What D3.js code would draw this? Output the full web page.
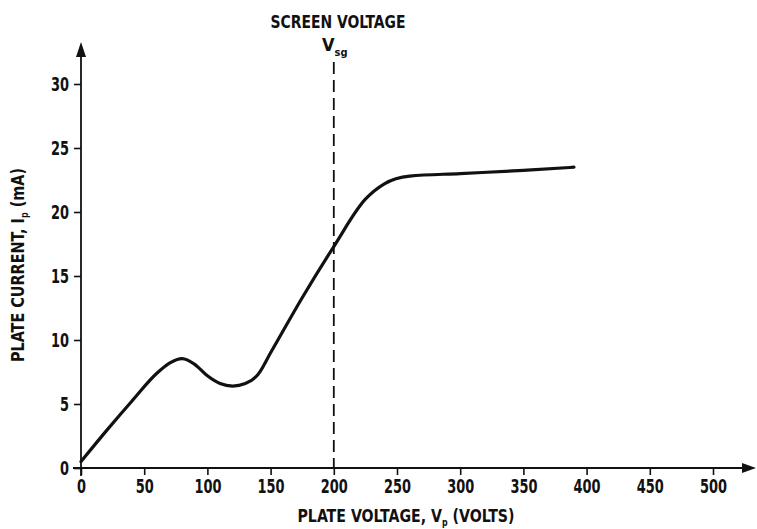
<!DOCTYPE html>
<html>
<head>
<meta charset="utf-8">
<script src="https://cdn.jsdelivr.net/npm/d3@7"></script>
<style>
  body { margin: 0; background: #fff; }
  text { font-family: "DejaVu Sans Condensed", "DejaVu Sans", sans-serif; font-stretch: condensed; font-weight: bold; fill: #111; }
</style>
</head>
<body>
<div id="chart"></div>
<script>
// plate voltage (V) and plate current (mA)
var plateVolts   = [0, 20, 40, 60, 70, 80, 90, 100, 110, 120, 130, 140, 150, 175, 200, 225, 240, 260, 300, 350, 390];
var plateCurrent = [0.5, 2.9, 5.2, 7.4, 8.2, 8.55, 8.1, 7.2, 6.6, 6.4, 6.6, 7.3, 9.0, 13.3, 17.3, 21.0, 22.2, 22.8, 23.0, 23.25, 23.5];
var xTicks = [0, 50, 100, 150, 200, 250, 300, 350, 400, 450, 500];
var yTicks = [0, 5, 10, 15, 20, 25, 30];
var screenVoltage = 200;

var W = 757, H = 529;

var svg = d3.select("#chart").append("svg")
    .attr("width", W)
    .attr("height", H);

var x = d3.scaleLinear().domain([0, 500]).range([81, 713]);
var y = d3.scaleLinear().domain([0, 30]).range([468, 84]);

/* axes */
var xAxis = svg.append("g")
    .attr("transform", "translate(0," + y(0) + ")")
    .call(d3.axisBottom(x).tickValues(xTicks).tickSize(7).tickPadding(5).tickSizeOuter(0));
var yAxis = svg.append("g")
    .attr("transform", "translate(" + x(0) + ",0)")
    .call(d3.axisLeft(y).tickValues(yTicks).tickSize(7).tickPadding(5).tickSizeOuter(0));

[xAxis, yAxis].forEach(function (a) {
    a.select(".domain").remove();
    a.selectAll("line").attr("stroke", "#111").attr("stroke-width", 1.6);
    a.selectAll("text")
        .style("font-size", "19px")
        .attr("fill", "#111")
        .attr("font-family", null)
        // squeeze digits to the narrow face of the original
        .attr("textLength", function () { return this.textContent.length * 9; })
        .attr("lengthAdjust", "spacingAndGlyphs");
});

// axis lines with arrowheads
svg.append("line")
    .attr("x1", x(0) - 8).attr("x2", 748)
    .attr("y1", y(0)).attr("y2", y(0))
    .attr("stroke", "#111").attr("stroke-width", 1.8);
svg.append("line")
    .attr("x1", x(0)).attr("x2", x(0))
    .attr("y1", y(0) + 8).attr("y2", 52)
    .attr("stroke", "#111").attr("stroke-width", 1.8);
svg.append("path")
    .attr("d", "M756," + y(0) + " L742," + (y(0) - 5) + " L742," + (y(0) + 5) + "Z")
    .attr("fill", "#111");
svg.append("path")
    .attr("d", "M" + x(0) + ",42 L" + (x(0) - 5) + ",57 L" + (x(0) + 5) + ",57Z")
    .attr("fill", "#111");

/* screen voltage marker */
svg.append("line")
    .attr("x1", x(screenVoltage)).attr("x2", x(screenVoltage))
    .attr("y1", 62).attr("y2", y(0))
    .attr("stroke", "#111").attr("stroke-width", 1.8)
    .attr("stroke-dasharray", "12,6");

svg.append("text")
    .attr("transform", "translate(338,28) scale(0.86,1)")
    .attr("text-anchor", "middle")
    .style("font-size", "18px")
    .text("SCREEN VOLTAGE");

var vsg = svg.append("text")
    .attr("x", 322).attr("y", 51)
    .style("font-size", "18px");
vsg.append("tspan").text("V");
vsg.append("tspan").attr("dy", 5).style("font-size", "11px").text("sg");

/* curve */
var pts = plateVolts.map(function (v, i) { return [v, plateCurrent[i]]; });
var line = d3.line()
    .x(function (d) { return x(d[0]); })
    .y(function (d) { return y(d[1]); })
    .curve(d3.curveMonotoneX);

svg.append("path")
    .datum(pts)
    .attr("d", line)
    .attr("fill", "none")
    .attr("stroke", "#111")
    .attr("stroke-width", 3.2)
    .attr("stroke-linecap", "round");

/* axis titles */
var xt = svg.append("text")
    .attr("transform", "translate(406,522) scale(0.875,1)")
    .attr("text-anchor", "middle")
    .style("font-size", "18px");
xt.append("tspan").text("PLATE VOLTAGE, V");
xt.append("tspan").attr("dy", 4).style("font-size", "10px").text("p");
xt.append("tspan").attr("dy", -4).text(" (VOLTS)");

var yt = svg.append("text")
    .attr("transform", "translate(24,265) rotate(-90) scale(0.89,1)")
    .attr("text-anchor", "middle")
    .style("font-size", "18px");
yt.append("tspan").text("PLATE CURRENT, I");
yt.append("tspan").attr("dy", 4).style("font-size", "10px").text("p");
yt.append("tspan").attr("dy", -4).text(" (mA)");
</script>
</body>
</html>
